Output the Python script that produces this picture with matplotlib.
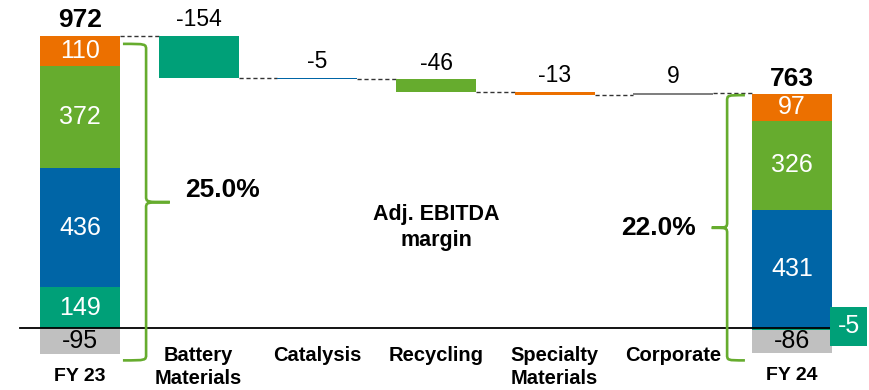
import numpy as np
import matplotlib.pyplot as plt
from matplotlib.path import Path
from matplotlib.patches import PathPatch

plt.rcParams['font.family'] = ['Liberation Sans', 'DejaVu Sans']

# year-end stacks, per segment
segments = ['Battery Materials', 'Catalysis', 'Recycling', 'Specialty Materials', 'Corporate']
fy_labels = ['FY 23', 'FY 24']
fy23 = [149, 436, 372, 110, -95]
fy24 = [-5, 431, 326, 97, -86]
fy_totals = [972, 763]
margins = ['25.0%', '22.0%']

# bridge between the two years
bridge_labels = ['Battery\nMaterials', 'Catalysis', 'Recycling', 'Specialty\nMaterials', 'Corporate']
bridge_delta = [-154, -5, -46, -13, 9]

seg_colors = ['#00A078', '#0065A6', '#66AC2E', '#EC7000', '#C0C0C0']
bridge_colors = ['#00A078', '#0065A6', '#66AC2E', '#EC7000', '#808080']
brace_color = '#66AC2E'

W = 0.674
fig = plt.figure(figsize=(8.7, 3.9), dpi=100)
ax = fig.add_axes([0, 0, 1, 1])
ax.set_xlim(-0.674, 6.657)
ax.set_ylim(-225, 1197)
ax.axis('off')

x_fy = [0, len(segments) + 1]


def stack(x, vals):
    pos, neg = 0, 0
    for i, v in enumerate(vals):
        if v >= 0:
            b = pos
            pos += v
        else:
            b = neg
            neg += v
        ax.bar(x, v, W, bottom=b, color=seg_colors[i], zorder=2)
        txt_col = 'black' if seg_colors[i] == '#C0C0C0' else 'white'
        if abs(v) < 20:
            continue
        ax.text(x, b + v / 2, str(v), ha='center', va='center', fontsize=18,
                color=txt_col, zorder=3)
    return pos, neg


tops = []
bots = []
for k, vals in enumerate([fy23, fy24]):
    p, n = stack(x_fy[k], vals)
    tops.append(p)
    bots.append(n)
    ax.annotate(str(fy_totals[k]), (x_fy[k], p), xytext=(0, 6), textcoords='offset points',
                ha='center', va='baseline', fontsize=19, fontweight='bold')
    ax.text(x_fy[k], n - 50, fy_labels[k], ha='center', va='top', fontsize=14, fontweight='bold')

# small teal item of FY 24 shown as a tag beside the bar
small = fy24[0]
ax.text(x_fy[1] + W / 2 + 0.14, 8, str(small), ha='center', va='center', fontsize=18,
        color='white', zorder=4,
        bbox=dict(boxstyle='square,pad=0.3', fc=seg_colors[0], ec='none'))

# waterfall
level = tops[0]
prev_edge = x_fy[0] + W / 2
for i, d in enumerate(bridge_delta):
    x = i + 1
    ax.plot([prev_edge, x - W / 2], [level, level], color='#333333', lw=1, ls=(0, (3, 2)), zorder=1)
    ax.bar(x, d, W, bottom=level, color=bridge_colors[i], zorder=2)
    ax.annotate(str(d), (x, max(level, level + d)), xytext=(0, 7), textcoords='offset points',
                ha='center', va='baseline', fontsize=16.5)
    ax.text(x, -66, bridge_labels[i], ha='center', va='top', fontsize=14.5,
            fontweight='bold', linespacing=1.25)
    level += d
    prev_edge = x + W / 2
ax.plot([prev_edge, x_fy[1] - W / 2], [level, level], color='#333333', lw=1, ls=(0, (3, 2)), zorder=1)

# zero line
ax.axhline(0, xmin=0.023, xmax=0.957, color='black', lw=1.3, zorder=3)


def brace(x_end, x_sp, x_tip, y_top, y_bot, ry=22):
    y_mid = (y_top + y_bot) / 2
    verts = [(x_end, y_top), (x_sp, y_top), (x_sp, y_top), (x_sp, y_top - ry),
             (x_sp, y_mid + ry),
             (x_sp, y_mid), (x_sp, y_mid), (x_tip, y_mid),
             (x_sp, y_mid), (x_sp, y_mid), (x_sp, y_mid - ry),
             (x_sp, y_bot + ry),
             (x_sp, y_bot), (x_sp, y_bot), (x_end, y_bot)]
    codes = [Path.MOVETO, Path.CURVE4, Path.CURVE4, Path.CURVE4,
             Path.LINETO,
             Path.CURVE4, Path.CURVE4, Path.CURVE4,
             Path.CURVE4, Path.CURVE4, Path.CURVE4,
             Path.LINETO,
             Path.CURVE4, Path.CURVE4, Path.CURVE4]
    ax.add_patch(PathPatch(Path(verts, codes), fc='none', ec=brace_color, lw=1.9, zorder=3))
    return x_tip, y_mid


e0 = x_fy[0] + W / 2
t0 = brace(e0 + 0.025, e0 + 0.22, e0 + 0.42, tops[0] - 30, bots[0] - 22)
e1 = x_fy[1] - W / 2
t1 = brace(e1 - 0.06, e1 - 0.21, e1 - 0.34, tops[1] - 4, bots[1] - 26)

ax.text(t0[0] + 0.13, t0[1] + 45, margins[0], ha='left', va='center', fontsize=19, fontweight='bold')
ax.text(t1[0] - 0.13, t1[1], margins[1], ha='right', va='center', fontsize=19, fontweight='bold')
ax.text(3, (t0[1] + t1[1]) / 2 - 45, 'Adj. EBITDA\nmargin', ha='center', va='center',
        fontsize=15.5, fontweight='bold', linespacing=1.3)

fig.savefig('out.png', dpi=100)
